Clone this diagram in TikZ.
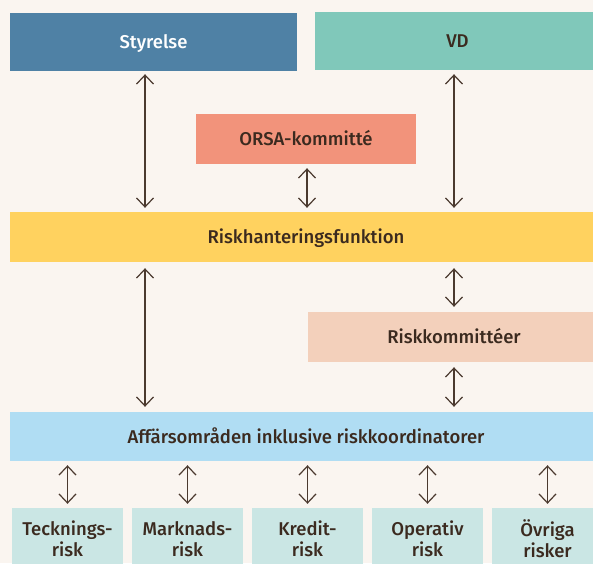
\documentclass[tikz,border=0pt]{standalone}
\usepackage{fontspec}
\IfFontExistsTF{Fira Sans Medium}{\setmainfont{Fira Sans Medium}}{\setmainfont{Fira Sans}}
\usetikzlibrary{arrows.meta}

\definecolor{bgcol}{HTML}{FAF5F0}
\definecolor{inkcol}{HTML}{3B2A1F}
\definecolor{arrowcol}{HTML}{4B3A2F}
\definecolor{boardcol}{HTML}{4F81A5}
\definecolor{ceocol}{HTML}{80C8BA}
\definecolor{orsacol}{HTML}{F2937B}
\definecolor{rmfcol}{HTML}{FFD25F}
\definecolor{rccol}{HTML}{F3D0BB}
\definecolor{bucol}{HTML}{B0DDF3}
\definecolor{riskcol}{HTML}{CAE6E4}

\tikzset{
  block/.style={rectangle, inner sep=0pt, draw=none, text=inkcol,
    font=\fontsize{18.5}{21}\selectfont, text height=13pt, text depth=0pt},
  riskbox/.style={rectangle, inner sep=0pt, draw=none, fill=riskcol, text=inkcol,
    font=\fontsize{18.5}{21}\selectfont, align=center,
    minimum width=111pt, minimum height=62pt},
  link/.style={draw=arrowcol, line width=1.2pt,
    {Straight Barb[length=9pt,width=17pt]}-{Straight Barb[length=9pt,width=17pt]}}
}

\begin{document}
\begin{tikzpicture}[x=1pt,y=-1pt]
  \useasboundingbox (0,0) rectangle (593,563);
  \clip (0,0) rectangle (593,563);
  \fill[bgcol] (0,0) rectangle (593,563);

  % top level
  \node[block, fill=boardcol, text=white, minimum width=287pt, minimum height=58pt]
    (sty) at (153.5,42) {Styrelse};
  \node[block, fill=ceocol, minimum width=285pt, minimum height=58pt]
    (vd) at (457.5,41) {VD};
  \node[block, fill=orsacol, minimum width=220pt, minimum height=50pt]
    (orsa) at (306,139) {ORSA-kommitté};

  % middle level
  \node[block, fill=rmfcol, minimum width=592pt, minimum height=50pt]
    (rh) at (306,237) {Riskhanteringsfunktion};
  \node[block, fill=rccol, minimum width=292pt, minimum height=50pt]
    (rk) at (454,337) {Riskkommittéer};
  \node[block, fill=bucol, minimum width=592pt, minimum height=49pt]
    (aff) at (306,436.5) {Affärsområden inklusive riskkoordinatorer};

  % risk categories
  \node[riskbox] (r1) at (67.5,539) {Tecknings-\\risk};
  \node[riskbox] (r2) at (187.5,539) {Marknads-\\risk};
  \node[riskbox] (r3) at (307.5,539) {Kredit-\\risk};
  \node[riskbox] (r4) at (427.5,539) {Operativ\\risk};
  \node[riskbox] (r5) at (547.5,539) {Övriga\\risker};

  % connectors
  \coordinate (xL) at (145,0);
  \coordinate (xR) at (454,0);
  \coordinate (xO) at (307,0);
  \draw[link] ([yshift=-3pt]sty.south -| xL) -- ([yshift=4pt]rh.north -| xL);
  \draw[link] ([yshift=-4pt]vd.south -| xR) -- ([yshift=4pt]rh.north -| xR);
  \draw[link] ([yshift=-4pt]orsa.south -| xO) -- ([yshift=4pt]rh.north -| xO);
  \draw[link] ([yshift=-6pt]rh.south -| xL) -- ([yshift=5pt]aff.north -| xL);
  \draw[link] ([yshift=-6pt]rh.south -| xR) -- ([yshift=5pt]rk.north -| xR);
  \draw[link] ([yshift=-5pt]rk.south -| xR) -- ([yshift=5pt]aff.north -| xR);
  \foreach \r in {r1,r2,r3,r4,r5}
    \draw[link] ([yshift=-4pt]aff.south -| \r) -- ([yshift=4pt]\r.north);
\end{tikzpicture}
\end{document}
